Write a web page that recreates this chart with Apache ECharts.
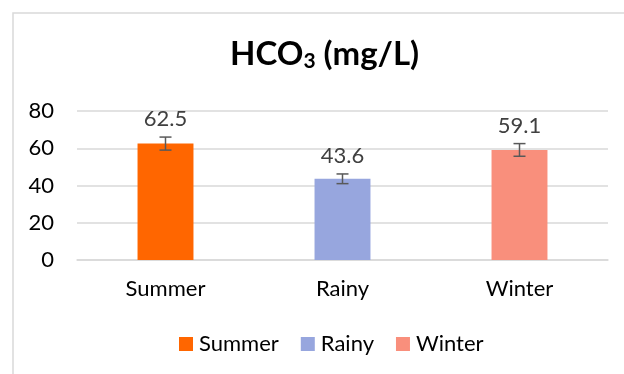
<!DOCTYPE html>
<html>
<head>
<meta charset="utf-8">
<script src="https://cdn.jsdelivr.net/npm/echarts@6/dist/echarts.min.js"></script>
<style>
  html, body { margin: 0; padding: 0; background: #fff; }
  #chart { width: 624px; height: 374px; }
</style>
</head>
<body>
<div id="chart"></div>
<script>
  // data
  var seasons = ['Summer', 'Rainy', 'Winter'];
  var hco3 = [62.5, 43.6, 59.1];
  var errs = [3.5, 2.6, 3.4];
  var colors = ['#ff6600', '#97a6de', '#f98f7c'];
  var yTicks = [0, 20, 40, 60, 80];

  var font = 'Lato, "Open Sans", sans-serif';
  var chartDom = document.getElementById('chart');
  var myChart = echarts.init(chartDom);

  // one series per season so the legend gets three entries; bars overlap with barGap -100%
  var barSeries = seasons.map(function (name, i) {
    return {
      name: name,
      type: 'bar',
      barWidth: '31.6%',
      barGap: '-100%',
      itemStyle: { color: colors[i] },
      data: seasons.map(function (s, j) { return j === i ? hco3[i] : '-'; }),
      z: 2
    };
  });

  var errData = seasons.map(function (s, i) { return [i, hco3[i], errs[i]]; });

  var option = {
    animation: false,
    textStyle: { fontFamily: font },
    title: {
      text: 'HCO{sub|3} (mg/L)',
      left: 225,
      top: 31,
      textStyle: {
        fontFamily: font,
        fontSize: 33,
        fontWeight: 'bold',
        color: '#000',
        rich: {
          sub: { fontFamily: font, fontSize: 21, fontWeight: 'bold', color: '#000', verticalAlign: 'bottom', padding: [15, 0, 0, 0] }
        }
      }
    },
    graphic: [{
      type: 'rect',
      shape: { x: 13, y: 13, width: 700, height: 500 },
      style: { fill: null, stroke: '#d9d9d9', lineWidth: 1.5 },
      silent: true
    }],
    legend: {
      bottom: 14,
      left: 174,
      itemWidth: 14,
      itemHeight: 14,
      itemGap: 22,
      icon: 'rect',
      textStyle: { fontFamily: font, fontSize: 22, color: '#000', padding: [0, 0, 0, 1] },
      data: seasons
    },
    grid: { left: 77, right: 16, top: 111, bottom: 114 },
    xAxis: {
      type: 'category',
      data: seasons,
      axisLine: { lineStyle: { color: '#d9d9d9', width: 1.5 } },
      axisTick: { show: false },
      axisLabel: { fontFamily: font, fontSize: 22, color: '#000', margin: 18 }
    },
    yAxis: {
      type: 'value',
      min: yTicks[0],
      max: yTicks[yTicks.length - 1],
      interval: 20,
      axisLine: { show: false },
      axisTick: { show: false },
      splitLine: { lineStyle: { color: '#d9d9d9', width: 1.5 } },
      axisLabel: { fontFamily: font, fontSize: 22, color: '#000', margin: 23 }
    },
    series: barSeries.concat([{
      type: 'custom',
      name: 'err',
      data: errData,
      z: 5,
      renderItem: function (params, api) {
        var x = api.value(0);
        var v = api.value(1);
        var e = api.value(2);
        var top = api.coord([x, v + e]);
        var bot = api.coord([x, v - e]);
        var hw = 6;
        var st = { stroke: '#595959', lineWidth: 1.5 };
        return {
          type: 'group',
          children: [
            { type: 'line', shape: { x1: top[0], y1: top[1], x2: bot[0], y2: bot[1] }, style: st },
            { type: 'line', shape: { x1: top[0] - hw, y1: top[1], x2: top[0] + hw, y2: top[1] }, style: st },
            { type: 'line', shape: { x1: bot[0] - hw, y1: bot[1], x2: bot[0] + hw, y2: bot[1] }, style: st },
            {
              type: 'text',
              x: top[0],
              y: top[1] - 18,
              style: {
                text: String(v),
                fontFamily: font,
                fontSize: 22,
                fill: '#404040',
                align: 'center',
                verticalAlign: 'middle'
              }
            }
          ]
        };
      }
    }])
  };

  myChart.setOption(option, true);
</script>
</body>
</html>
